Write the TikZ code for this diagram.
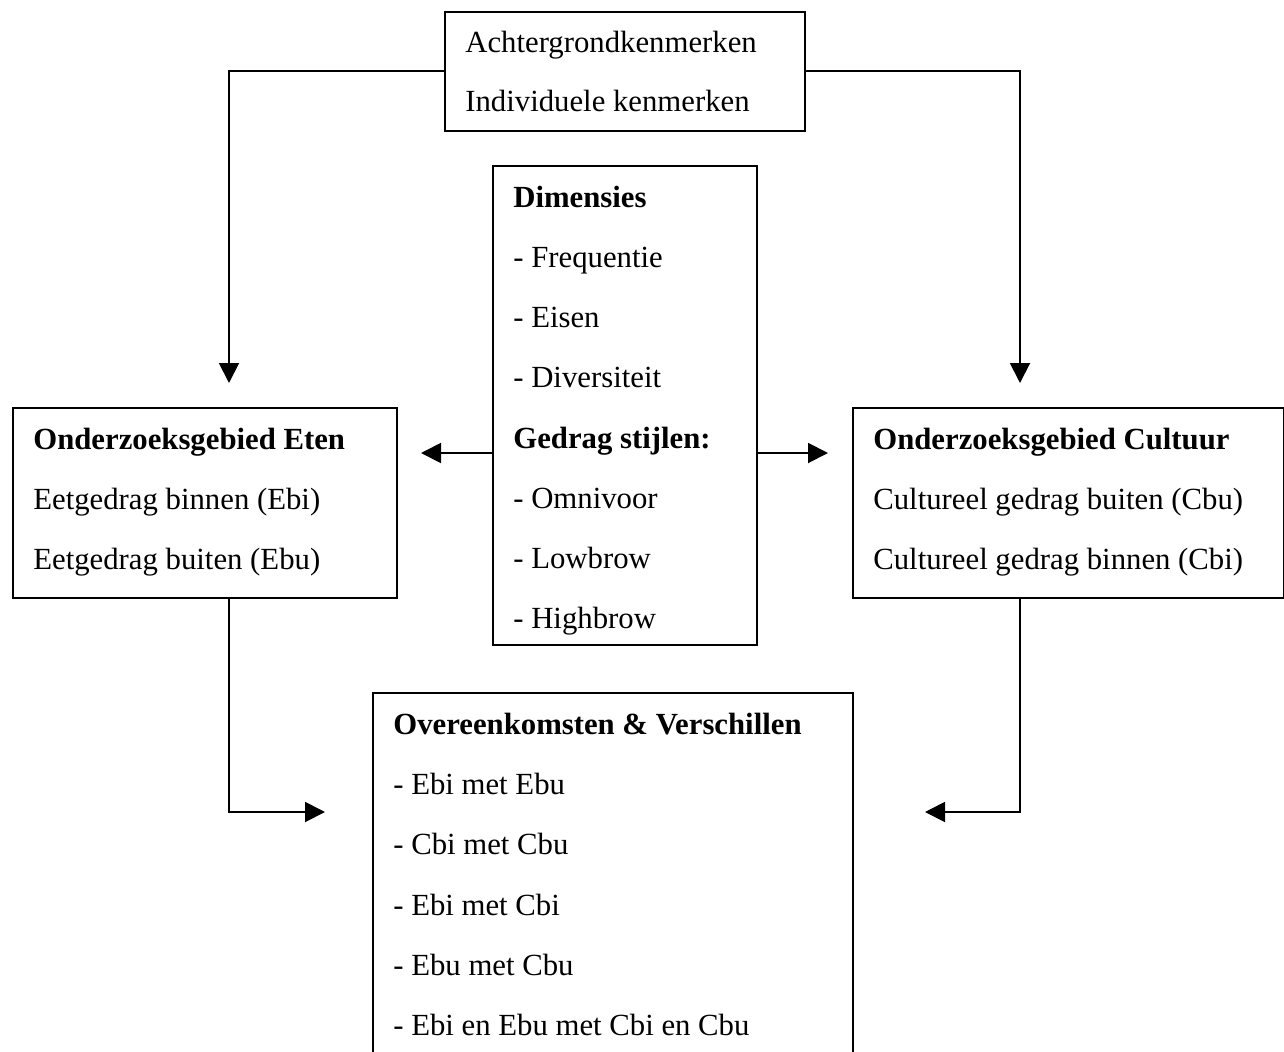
\documentclass[tikz,border=0pt]{standalone}
\usepackage{fontspec}
\setmainfont{Liberation Serif}
\usetikzlibrary{arrows.meta}

\tikzset{
  box/.style={draw, line width=1.1pt, inner sep=0pt, anchor=north west},
  txt/.style={anchor=base west, inner sep=0pt, font=\fontsize{17.5}{21}\selectfont},
  hd/.style={txt, font=\fontsize{17.5}{21}\selectfont\bfseries},
  conn/.style={line width=1.1pt, -{Triangle[length=0.4cm, width=0.4cm]}},
}

\begin{document}
\begin{tikzpicture}[x=0.02cm, y=-0.02cm]
  % \draw[help lines] (0,0) grid[step=100] (1284,1051);
  \useasboundingbox (0,0) rectangle (1284,1051);

  % boxes
  \node[box, minimum width=7.2cm, minimum height=2.38cm] (top) at (444,11) {};
  \node[box, minimum width=5.28cm, minimum height=9.58cm] (mid) at (492,165) {};
  \node[box, minimum width=7.68cm, minimum height=3.8cm] (eten) at (12,407) {};
  \node[box, minimum width=8.62cm, minimum height=3.8cm] (cult) at (852,407) {};
  \node[box, minimum width=9.6cm, minimum height=8.4cm] (overeen) at (372,692) {};

  % texts
  \node[txt] (top-1) at (465,53) {Achtergrondkenmerken};
  \node[txt] (top-2) at (465,112) {Individuele kenmerken};

  \node[hd] (mid-1) at (513,207) {Dimensies};
  \node[txt] (mid-2) at (513,267) {- Frequentie};
  \node[txt] (mid-3) at (513,327) {- Eisen};
  \node[txt] (mid-4) at (513,387) {- Diversiteit};
  \node[hd] (mid-5) at (513,448) {Gedrag stijlen:};
  \node[txt] (mid-6) at (513,508) {- Omnivoor};
  \node[txt] (mid-7) at (513,568) {- Lowbrow};
  \node[txt] (mid-8) at (513,628) {- Highbrow};

  \node[hd] (eten-1) at (33,449) {Onderzoeksgebied Eten};
  \node[txt] (eten-2) at (33,509) {Eetgedrag binnen (Ebi)};
  \node[txt] (eten-3) at (33,569) {Eetgedrag buiten (Ebu)};

  \node[hd] (cult-1) at (873,449) {Onderzoeksgebied Cultuur};
  \node[txt] (cult-2) at (873,509) {Cultureel gedrag buiten (Cbu)};
  \node[txt] (cult-3) at (873,569) {Cultureel gedrag binnen (Cbi)};

  \node[hd] (overeen-1) at (393,734) {Overeenkomsten \& Verschillen};
  \node[txt] (overeen-2) at (393,794) {- Ebi met Ebu};
  \node[txt] (overeen-3) at (393,854) {- Cbi met Cbu};
  \node[txt] (overeen-4) at (393,915) {- Ebi met Cbi};
  \node[txt] (overeen-5) at (393,975) {- Ebu met Cbu};
  \node[txt] (overeen-6) at (393,1035) {- Ebi en Ebu met Cbi en Cbu};

  % arrow ends
  \coordinate (tipL) at (229,383);
  \coordinate (tipR) at (1020,383);
  \coordinate (tipML) at (421,453);
  \coordinate (tipMR) at (828,453);
  \coordinate (tipBL) at (325,812);
  \coordinate (tipBR) at (925,812);

  \draw[conn] (top.west) -| (tipL);
  \draw[conn] (top.east) -| (tipR);
  \draw[conn] (tipML -| mid.west) -- (tipML);
  \draw[conn] (tipMR -| mid.east) -- (tipMR);
  \draw[conn] (eten.south -| tipL) |- (tipBL);
  \draw[conn] (cult.south -| tipR) |- (tipBR);
\end{tikzpicture}
\end{document}
